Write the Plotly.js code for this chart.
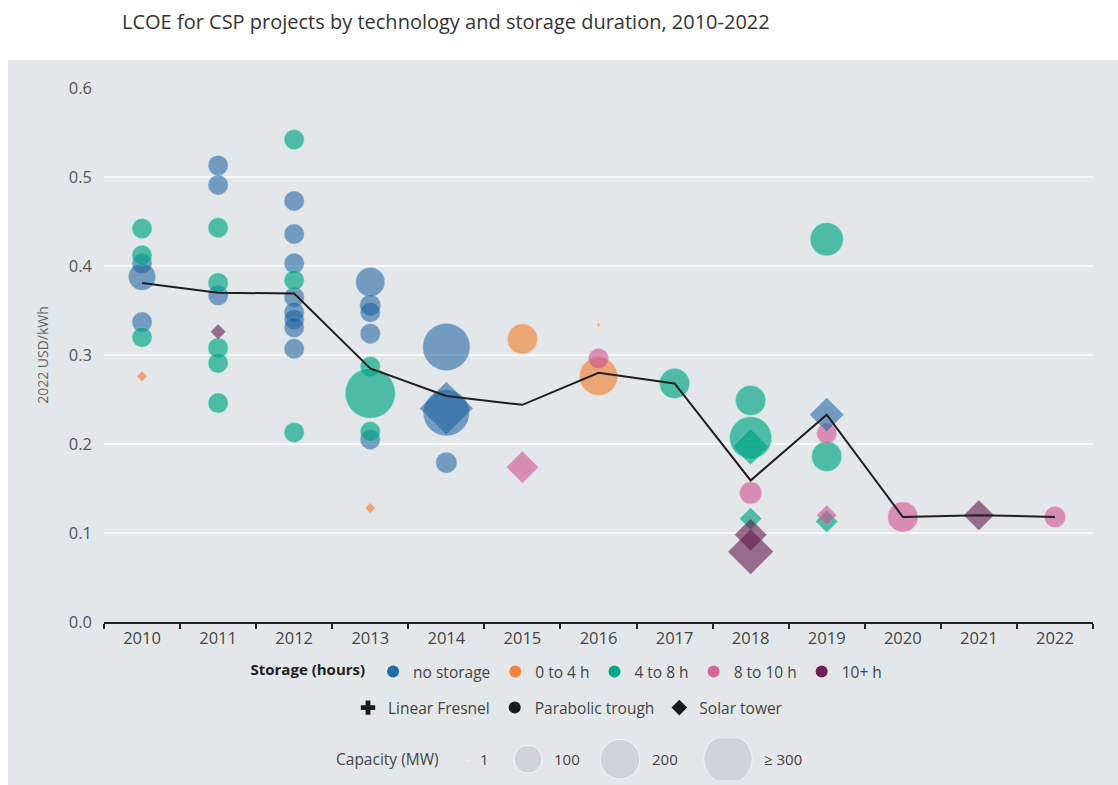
<!DOCTYPE html>
<html>
<head>
<meta charset="utf-8">
<script src="https://cdn.plot.ly/plotly-3.0.1.min.js"></script>
<style>html,body{margin:0;padding:0;background:#fff}#chart{width:1118px;height:785px}</style>
</head>
<body>
<div id="chart"></div>
<script>
// ---- Data ----
const years = [
  2010,2010,2010,2010,2010,2010,2010,
  2011,2011,2011,2011,2011,2011,2011,2011,2011,
  2012,2012,2012,2012,2012,2012,2012,2012,2012,2012,2012,
  2013,2013,2013,2013,2013,2013,2013,2013,2013,
  2014,2014,2014,2014,
  2015,2015,
  2016,2016,2016,
  2017,
  2018,2018,2018,2018,2018,2018,2018,
  2019,2019,2019,2019,2019,2019,
  2020,2021,2022
];
const lcoe = [
  0.442,0.412,0.403,0.388,0.337,0.320,0.276,
  0.513,0.491,0.443,0.381,0.367,0.326,0.308,0.291,0.246,
  0.542,0.473,0.436,0.403,0.384,0.365,0.348,0.340,0.331,0.307,0.213,
  0.382,0.356,0.348,0.324,0.287,0.257,0.214,0.205,0.128,
  0.309,0.235,0.240,0.179,
  0.318,0.174,
  0.334,0.296,0.276,
  0.268,
  0.249,0.207,0.197,0.145,0.116,0.098,0.079,
  0.430,0.233,0.212,0.186,0.120,0.113,
  0.118,0.120,0.118
];
const capacityMW = [
  51,51,51,93,51,51,8,
  51,51,51,51,51,17,51,51,51,
  51,51,51,51,51,51,51,51,51,51,51,
  107,56,51,51,51,319,51,51,8,
  282,270,214,56,
  115,77,
  1,51,184,
  115,
  115,225,100,62,37,77,153,
  139,87,51,115,30,37,
  115,68,56
];
const storage = [
  '4 to 8 h','4 to 8 h','no storage','no storage','no storage','4 to 8 h','0 to 4 h',
  'no storage','no storage','4 to 8 h','4 to 8 h','no storage','10+ h','4 to 8 h','4 to 8 h','4 to 8 h',
  '4 to 8 h','no storage','no storage','no storage','4 to 8 h','no storage','no storage','no storage','no storage','no storage','4 to 8 h',
  'no storage','no storage','no storage','no storage','4 to 8 h','4 to 8 h','4 to 8 h','no storage','0 to 4 h',
  'no storage','no storage','no storage','no storage',
  '0 to 4 h','8 to 10 h',
  '0 to 4 h','8 to 10 h','0 to 4 h',
  '4 to 8 h',
  '4 to 8 h','4 to 8 h','4 to 8 h','8 to 10 h','4 to 8 h','10+ h','10+ h',
  '4 to 8 h','no storage','8 to 10 h','4 to 8 h','8 to 10 h','4 to 8 h',
  '8 to 10 h','10+ h','8 to 10 h'
];
const technology = [
  'PT','PT','PT','PT','PT','PT','ST',
  'PT','PT','PT','PT','PT','ST','PT','PT','PT',
  'PT','PT','PT','PT','PT','PT','PT','PT','PT','PT','PT',
  'PT','PT','PT','PT','PT','PT','PT','PT','ST',
  'PT','PT','ST','PT',
  'PT','ST',
  'LF','PT','PT',
  'PT',
  'PT','PT','ST','PT','ST','ST','ST',
  'PT','ST','PT','PT','ST','ST',
  'PT','ST','PT'
];
const avgYears = [2010,2011,2012,2013,2014,2015,2016,2017,2018,2019,2020,2021,2022];
const avgLcoe  = [0.381,0.370,0.369,0.285,0.254,0.244,0.280,0.268,0.159,0.233,0.118,0.120,0.118];

const storageCats = ['no storage','0 to 4 h','4 to 8 h','8 to 10 h','10+ h'];
const techCats = ['LF','PT','ST'];
const techNames = ['Linear Fresnel','Parabolic trough','Solar tower'];
const legendCaps = [1,100,200,300];
const legendCapLabels = ['1','100','200','≥ 300'];

// ---- Styles ----
const solid = {'no storage':'#1b6ea7','0 to 4 h':'#f0843a','4 to 8 h':'#05a787','8 to 10 h':'#d5649c','10+ h':'#6e1f55'};
const fill  = {'no storage':'rgba(25,98,158,0.8)','0 to 4 h':'rgba(240,126,48,0.9)','4 to 8 h':'rgba(0,165,132,0.94)','8 to 10 h':'rgba(206,84,146,0.88)','10+ h':'rgba(98,22,74,0.85)'};
const edge  = {'no storage':'rgba(150,195,230,0.35)','0 to 4 h':'rgba(255,200,160,0.45)','4 to 8 h':'rgba(120,235,215,0.5)','8 to 10 h':'rgba(245,170,205,0.4)','10+ h':'rgba(190,120,160,0.3)'};
const symbolOf = {'LF':'cross','PT':'circle','ST':'diamond'};
const sizeOf = mw => 2.8*Math.sqrt(mw);

const traces = [];
['PT','LF','ST'].forEach(t => {
  storageCats.forEach(s => {
    const idx = years.map((_,i)=>i).filter(i => storage[i]===s && technology[i]===t);
    if (!idx.length) return;
    traces.push({
      type:'scatter', mode:'markers', showlegend:false, cliponaxis:false,
      x: idx.map(i=>years[i]), y: idx.map(i=>lcoe[i]),
      marker:{symbol:symbolOf[t], size: idx.map(i=>sizeOf(capacityMW[i])), color: fill[s],
        line:{width:1, color: edge[s]}},
      hoverinfo:'x+y'
    });
  });
});
traces.push({type:'scatter', mode:'lines', x:avgYears, y:avgLcoe, showlegend:false,
  line:{color:'#1f1f1f', width:2}, hoverinfo:'skip'});

storageCats.forEach(s => traces.push({type:'scatter', mode:'markers', x:[null], y:[null], name:s,
  legend:'legend', showlegend:true, marker:{symbol:'circle', size:12, color:solid[s]}}));
techCats.forEach((t,k) => traces.push({type:'scatter', mode:'markers', x:[null], y:[null], name:techNames[k],
  legend:'legend2', showlegend:true, marker:{symbol:symbolOf[t], size:12, color:'#1a1a1a'}}));
const capLegendX = [467, 528, 620, 728];
traces.push({type:'scatter', mode:'markers', xaxis:'x2', yaxis:'y2', showlegend:false, hoverinfo:'skip',
  x: capLegendX, y: legendCaps.map(()=>0.5),
  marker:{symbol:'circle', size: legendCaps.map(sizeOf), color:'#c8cbcf'}});

const FONT = 'Open Sans, sans-serif';
const capLabelAnn = legendCapLabels.map((lab,k) => ({
  xref:'x2', yref:'y2', x: capLegendX[k] + sizeOf(legendCaps[k])/2 + 10, y:0.5,
  text: lab, showarrow:false, xanchor:'left', yanchor:'middle',
  font:{family:FONT, size:15, color:'#444'}
}));

const layout = {
  width:1118, height:785,
  paper_bgcolor:'#ffffff', plot_bgcolor:'rgba(0,0,0,0)',
  margin:{l:104, r:25, t:88, b:5},
  font:{family:FONT, color:'#444'},
  title:{text:'LCOE for CSP projects by technology and storage duration, 2010-2022',
    x:122/1118, xref:'container', xanchor:'left', y:1-22/785, yref:'container', yanchor:'middle',
    font:{family:FONT, size:20, color:'#333'}},
  xaxis:{type:'category', categoryorder:'array', categoryarray:avgYears,
    range:[-0.5,12.5], tickson:'boundaries', ticks:'outside', ticklen:5, tickwidth:1.5, tickcolor:'#222',
    showline:true, linecolor:'#222', linewidth:2, showgrid:false, zeroline:false,
    tickfont:{size:16.5, color:'#444'}, anchor:'y', fixedrange:true},
  yaxis:{domain:[158/692, 1], range:[0,0.6], dtick:0.1, tickformat:'.1f',
    showgrid:true, gridcolor:'#f7f8f9', gridwidth:1.5, zeroline:false, showline:false,
    ticks:'', ticklabelstandoff:11, tickfont:{size:16.5, color:'#555'},
    title:{text:'2022 USD/kWh', font:{size:14, color:'#666'}, standoff:16}, anchor:'x', fixedrange:true},
  xaxis2:{domain:[0,1], range:[104,1093], visible:false, anchor:'y2', fixedrange:true},
  yaxis2:{domain:[0,0.06], range:[0,1], visible:false, anchor:'x2', fixedrange:true},
  legend:{orientation:'h', x:(568-104)/989, xanchor:'center', y:(780-672)/692, yanchor:'middle',
    bgcolor:'rgba(0,0,0,0)', font:{size:15.5, color:'#444'},
    title:{text:'<b>Storage (hours)</b>', side:'left', font:{size:15, color:'#222'}}},
  legend2:{orientation:'h', x:(568-104)/989, xanchor:'center', y:(780-708)/692, yanchor:'middle',
    bgcolor:'rgba(0,0,0,0)', font:{size:15.5, color:'#444'}},
  shapes:[{type:'rect', xref:'paper', yref:'paper', layer:'below',
    x0:(8-104)/989, x1:(1118-104)/989, y0:-0.02, y1:(780-60)/692,
    fillcolor:'#e4e7ea', line:{width:0}}],
  annotations:[{xref:'x2', yref:'y2', x:441, y:0.5, text:'Capacity (MW)', showarrow:false,
    xanchor:'right', yanchor:'middle', font:{family:FONT, size:15.5, color:'#444'}}].concat(capLabelAnn),
  hovermode:'closest'
};
Plotly.newPlot('chart', traces, layout, {displayModeBar:false});
</script>
</body>
</html>
